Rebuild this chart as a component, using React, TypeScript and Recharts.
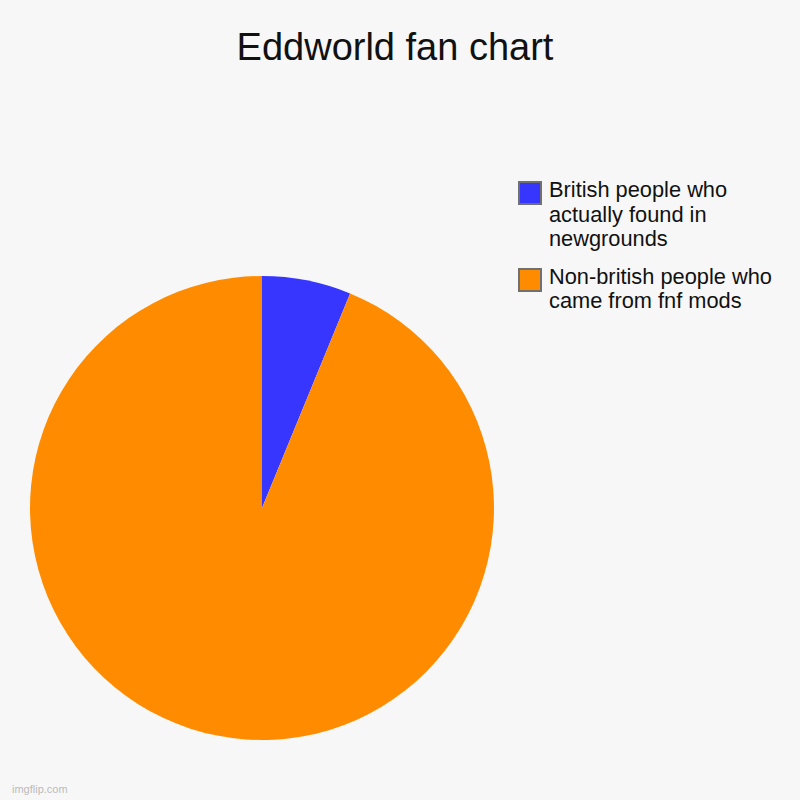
import { Legend, Pie, PieChart, Cell } from "recharts";

const categories = [
	"British people who actually found in newgrounds",
	"Non-british people who came from fnf mods",
];
const shares = [6.2, 93.8];
const colors = ["#3636ff", "#ff8c00"];

const data = categories.map((name, i) => ({ name, value: shares[i] }));

const font = "'Liberation Sans', Arial, sans-serif";

const LegendBox = () => (
	<div style={{ fontFamily: font }}>
		{categories.map((name, i) => (
			<div
				key={name}
				style={{ display: "flex", alignItems: "flex-start", marginBottom: 15 }}
			>
				<div
					style={{
						width: 20,
						height: 20,
						background: colors[i],
						border: "2px solid #707070",
						marginTop: 1,
						flexShrink: 0,
					}}
				/>
				<div
					style={{
						marginLeft: 7,
						width: 232,
						fontSize: 21.8,
						lineHeight: "24.5px",
						marginTop: -2,
						color: "#111",
						textAlign: "left",
					}}
				>
					{name}
				</div>
			</div>
		))}
	</div>
);

export default function App() {
	return (
		<div
			style={{
				position: "absolute",
				left: 0,
				top: 0,
				width: 800,
				height: 800,
				background: "#f7f7f7",
				overflow: "hidden",
			}}
		>
			<div
				style={{
					position: "absolute",
					top: 26,
					left: 0,
					width: 790,
					textAlign: "center",
					fontFamily: font,
					fontSize: 38,
					color: "#111",
				}}
			>
				Eddworld fan chart
			</div>
			<PieChart
				width={800}
				height={800}
				margin={{ top: 0, right: 0, bottom: 0, left: 0 }}
			>
				<Pie
					data={data}
					dataKey="value"
					nameKey="name"
					cx={262}
					cy={508}
					outerRadius={232}
					startAngle={90}
					endAngle={-270}
					stroke="none"
					isAnimationActive={false}
				>
					{data.map((d, i) => (
						<Cell key={d.name} fill={colors[i]} />
					))}
				</Pie>
				<Legend
					content={() => <LegendBox />}
					wrapperStyle={{ position: "absolute", left: 518, top: 180, width: 270 }}
				/>
			</PieChart>
			<div
				style={{
					position: "absolute",
					left: 12,
					top: 783,
					fontFamily: font,
					fontSize: 11,
					color: "#bbb",
				}}
			>
				imgflip.com
			</div>
		</div>
	);
}
